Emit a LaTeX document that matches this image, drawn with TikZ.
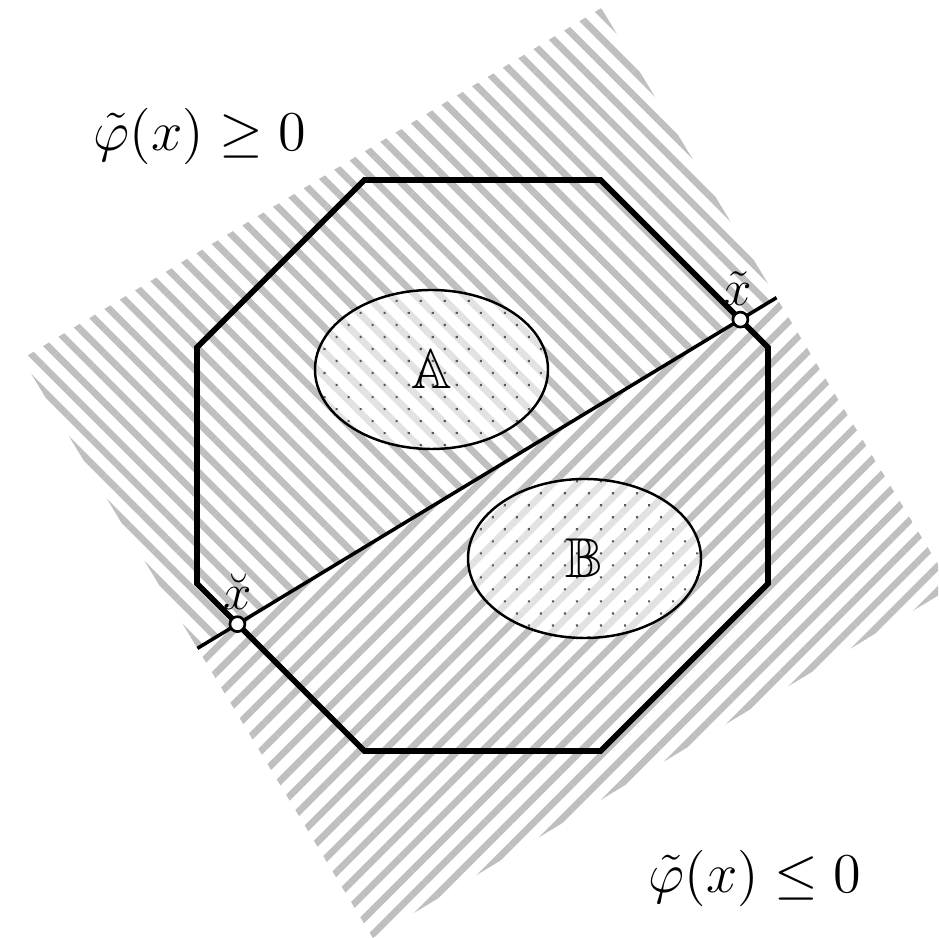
\RequirePackage{fix-cm}
\documentclass[tikz,border=0pt]{standalone}
\usepackage{amsmath}
\usepackage{amssymb}
\usepackage{tikz}
\usetikzlibrary{shapes.geometric, patterns.meta, positioning}

\begin{document}
\begin{tikzpicture}[
    hatch/.style={pattern={Lines[angle=#1, distance=0.174cm, line width=0.068cm]}, pattern color=black!25},
    region/.style={ellipse, draw, line width=0.7pt, minimum width=2.33cm, minimum height=1.59cm,
        preaction={fill=white, fill opacity=0.55},
        pattern={Dots[angle=45, distance=0.17cm, radius=0.015cm]}, pattern color=black!65,
        font=\fontsize{16}{19}\selectfont},
    pt/.style={circle, draw, fill=white, line width=0.75pt, inner sep=0pt, minimum size=0.15cm},
    ptlab/.style={inner sep=0.5pt, font=\fontsize{14.5}{17}\selectfont},
    sign/.style={font=\fontsize{16}{19}\selectfont}
]
\useasboundingbox (0,0) rectangle (9.38,9.38);

% the two half-planes of the cut
\coordinate (cutl) at (1.9745,2.8966);
\coordinate (cutr) at (7.7655,6.4034);
\begin{scope}
  \clip (0,0) rectangle (9.38,9.38);
  \path[hatch=-45] (cutl) -- (0.221,5.792) -- (6.012,9.299) -- (cutr) -- cycle;
  \path[hatch=45] (cutl) -- (3.728,0.001) -- (9.519,3.508) -- (cutr) -- cycle;
\end{scope}

\node[region] (setA) at (4.315,5.685) {$\mathbb{A}$};
\node[region] (setB) at (5.845,3.795) {$\mathbb{B}$};

% octagon
\draw[line width=1.6pt, shift={(4.825,4.725)}] (22.5:3.09)
  \foreach \a in {67.5,112.5,157.5,202.5,247.5,292.5,337.5} {-- (\a:3.09)} -- cycle;

\draw[line width=1pt] (cutl) -- (cutr);
\node[pt] (xl) at (2.374,3.1385) {};
\node[pt] (xr) at (7.404,6.184) {};
\node[ptlab, above=0.03cm of xl] (xllab) {$\breve{x}$};
\node[ptlab, above=0.03cm of xr, xshift=-0.03cm] (xrlab) {$\tilde{x}$};

\node[sign] (pos) at (2.00,8.02) {$\tilde{\varphi}(x) \geq 0$};
\node[sign] (neg) at (7.55,0.60) {$\tilde{\varphi}(x) \leq 0$};

\end{tikzpicture}
\end{document}
